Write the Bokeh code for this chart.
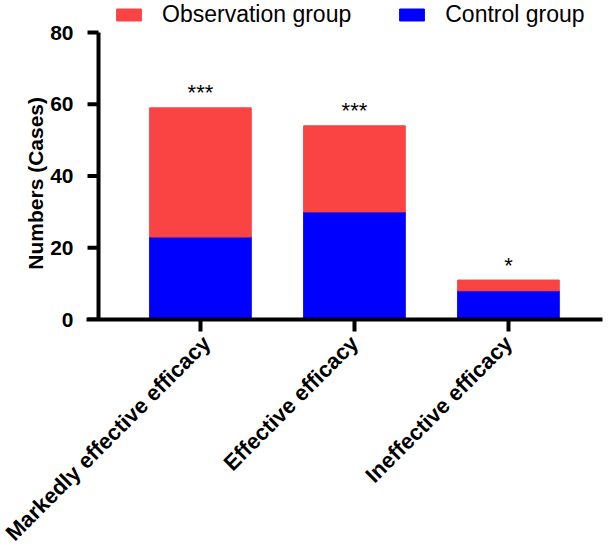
import math
from bokeh.plotting import figure
from bokeh.models import Legend, LegendItem, FixedTicker, ColumnDataSource
from bokeh.core.properties import value
from bokeh.embed import file_html
from bokeh.resources import INLINE

categories = ["Markedly effective efficacy", "Effective efficacy", "Ineffective efficacy"]
control = [23, 30, 8]
observation = [36, 24, 3]
significance = ["***", "***", "*"]
y_ticks = [0, 20, 40, 60, 80]

xs = list(range(len(categories)))
totals = [c + o for c, o in zip(control, observation)]

FONT = "Liberation Sans"
RED = "#FA4444"
BLUE = "#0000FF"

PX = 154.0            # px per category unit
X0 = -0.740           # frame left
YAX = -0.662          # where the y axis line sits
FW = 516
FH = 319
PY = 287.0 / 80.0     # px per case
YTOP = 80 + 32 / PY

p = figure(frame_width=FW, frame_height=FH, output_backend="svg", toolbar_location=None,
           x_range=(X0, X0 + FW / PX), y_range=(0, YTOP),
           min_border_left=86, min_border_right=2, min_border_top=0, min_border_bottom=222)
p.outline_line_color = None
p.grid.grid_line_color = None

src = ColumnDataSource(dict(x=xs, control=control, obs=observation, total=totals, sig=significance))
r_ctrl = p.vbar(x="x", bottom=0, top="control", width=0.66, source=src,
                fill_color=BLUE, line_color=BLUE)
r_obs = p.vbar(x="x", bottom="control", top="total", width=0.66, source=src,
               fill_color=RED, line_color=RED)
p.text(x="x", y="total", text="sig", source=src, text_align="center",
       text_baseline="alphabetic", y_offset=-15, text_font=value(FONT),
       text_font_size="22px", text_color="black")

# y axis line and ticks drawn in data space (axis offset like GraphPad)
p.line(x=[YAX, YAX], y=[0, y_ticks[-1]], line_width=4, line_color="black")
tick_src = ColumnDataSource(dict(
    xa=[YAX - 11 / PX] * len(y_ticks), xb=[YAX] * len(y_ticks),
    ya=list(y_ticks), yb=list(y_ticks)))
p.segment(x0="xa", y0="ya", x1="xb", y1="yb", source=tick_src,
          line_width=4, line_color="black")

# x axis
p.xaxis.ticker = FixedTicker(ticks=xs)
p.xaxis.major_label_overrides = {i: c for i, c in enumerate(categories)}
p.xaxis.major_label_orientation = math.pi / 4
p.xaxis.major_label_text_font = FONT
p.xaxis.major_label_text_font_style = "bold"
p.xaxis.major_label_text_font_size = "22px"
p.xaxis.major_label_text_color = "black"
p.xaxis.axis_line_width = 4
p.xaxis.major_tick_line_width = 4
p.xaxis.major_tick_out = 12
p.xaxis.major_tick_in = 0
p.xaxis.minor_tick_line_color = None
p.xaxis.major_label_standoff = 8

# y axis: only labels
p.yaxis.ticker = FixedTicker(ticks=y_ticks)
p.yaxis.axis_line_color = None
p.yaxis.major_tick_line_color = None
p.yaxis.minor_tick_line_color = None
p.yaxis.major_tick_out = 0
p.yaxis.major_tick_in = 0
p.yaxis.major_label_standoff = 13
p.yaxis.axis_label = "Numbers (Cases)" + "\u00a0" * 8
p.yaxis.axis_label_text_font = FONT
p.yaxis.axis_label_text_font_style = "bold"
p.yaxis.axis_label_text_font_size = "21px"
p.yaxis.axis_label_text_color = "black"
p.yaxis.axis_label_standoff = 0
p.yaxis.major_label_text_font = FONT
p.yaxis.major_label_text_font_style = "bold"
p.yaxis.major_label_text_font_size = "21px"
p.yaxis.major_label_text_color = "black"

legend = Legend(items=[LegendItem(label="Observation group", renderers=[r_obs]),
                       LegendItem(label="Control group", renderers=[r_ctrl])],
                location=(27, FH - 28), orientation="horizontal",
                glyph_width=31, glyph_height=15, label_standoff=18, spacing=45,
                padding=0, margin=0, border_line_color=None, background_fill_alpha=0,
                label_text_font=FONT, label_text_font_size="23px", label_text_color="black")
p.add_layout(legend, "center")

open("out.html", "w").write(file_html(p, INLINE))
